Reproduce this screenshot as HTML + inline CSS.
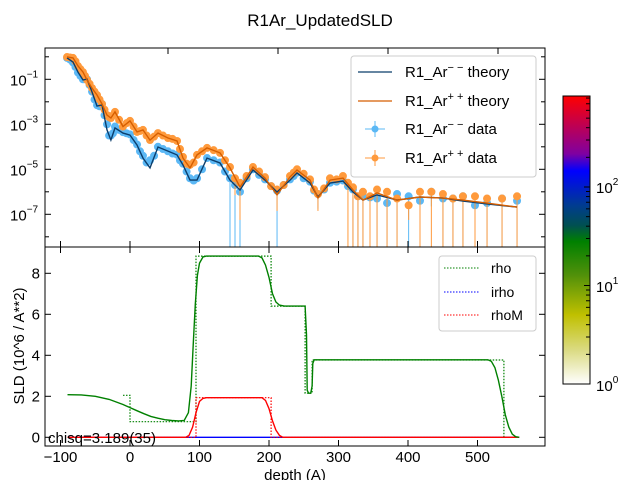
<!DOCTYPE html>
<html><head><meta charset="utf-8"><style>
body{margin:0;background:#fff;}
svg{display:block;font-family:"Liberation Sans",Arial,sans-serif;}
</style></head><body>
<svg id="chart" width="640" height="480" viewBox="0 0 640 480">
<defs>
<linearGradient id="cmap" x1="0" y1="0" x2="0" y2="1">
<stop offset="0" stop-color="#ff0000"/><stop offset="0.1" stop-color="#c00050"/><stop offset="0.2" stop-color="#8000a0"/><stop offset="0.26" stop-color="#0000ff"/><stop offset="0.38" stop-color="#003c90"/><stop offset="0.45" stop-color="#005050"/><stop offset="0.505" stop-color="#008000"/><stop offset="0.62" stop-color="#50900a"/><stop offset="0.76" stop-color="#c0c000"/><stop offset="0.88" stop-color="#dada80"/><stop offset="1" stop-color="#ffffff"/>
</linearGradient>
<clipPath id="clipTop"><rect x="45" y="48" width="500" height="199"/></clipPath>
<clipPath id="clipBot"><rect x="45" y="247" width="500" height="199"/></clipPath>
</defs>
<text x="320" y="26" font-size="17" text-anchor="middle">R1Ar_UpdatedSLD</text>
<g id="gtop" clip-path="url(#clipTop)"></g>
<g id="gbot" clip-path="url(#clipBot)"></g>
<g id="axes"></g>
<rect x="45" y="48" width="500" height="199" fill="none" stroke="#000" stroke-width="1"/>
<rect x="45" y="247" width="500" height="199" fill="none" stroke="#000" stroke-width="1"/>
<text x="48" y="443" font-size="15">chisq=3.189(35)</text>
<text x="295" y="480" font-size="15" text-anchor="middle">depth (A)</text>
<text transform="translate(24,346) rotate(-90)" font-size="15" text-anchor="middle">SLD (10^6 / A**2)</text>
<g>
<rect x="351" y="56" width="185" height="121" rx="3" fill="#fff" fill-opacity="0.85" stroke="#ccc"/>
<line x1="358" y1="72" x2="392" y2="72" stroke="#0b3d6b" stroke-width="1.3"/>
<text x="405" y="77" font-size="15">R1_Ar<tspan font-size="11" dy="-6">− −</tspan><tspan dy="6"> theory</tspan></text>
<line x1="358" y1="101" x2="392" y2="101" stroke="#d55e00" stroke-width="1.3"/>
<text x="405" y="106" font-size="15">R1_Ar<tspan font-size="11" dy="-6">+ +</tspan><tspan dy="6"> theory</tspan></text>
<line x1="375" y1="121" x2="375" y2="137" stroke="#5bb8f5"/><line x1="365" y1="129" x2="385" y2="129" stroke="#5bb8f5"/><circle cx="375" cy="129" r="3.5" fill="#5bb8f5"/>
<text x="405" y="134" font-size="15">R1_Ar<tspan font-size="11" dy="-6">− −</tspan><tspan dy="6"> data</tspan></text>
<line x1="375" y1="150" x2="375" y2="166" stroke="#ff9a3c"/><line x1="365" y1="158" x2="385" y2="158" stroke="#ff9a3c"/><circle cx="375" cy="158" r="3.5" fill="#ff9a3c"/>
<text x="405" y="163" font-size="15">R1_Ar<tspan font-size="11" dy="-6">+ +</tspan><tspan dy="6"> data</tspan></text>
</g>
<g>
<rect x="439" y="256" width="97" height="75" rx="3" fill="#fff" fill-opacity="0.85" stroke="#ccc"/>
<line x1="444" y1="268" x2="479" y2="268" stroke="#008000" stroke-dasharray="1.5,1.5"/><text x="491" y="273" font-size="14">rho</text>
<line x1="444" y1="292" x2="479" y2="292" stroke="#0000ff" stroke-dasharray="1.5,1.5"/><text x="491" y="297" font-size="14">irho</text>
<line x1="444" y1="315" x2="479" y2="315" stroke="#ff0000" stroke-dasharray="1.5,1.5"/><text x="491" y="320" font-size="14">rhoM</text>
</g>
<g>
<rect x="563" y="96" width="27" height="288" fill="url(#cmap)" stroke="#000"/>
<g id="cbticks"></g>
<text x="596" y="193" font-size="15">10<tspan font-size="10" dy="-8">2</tspan></text>
<text x="596" y="292" font-size="15">10<tspan font-size="10" dy="-8">1</tspan></text>
<text x="596" y="391" font-size="15">10<tspan font-size="10" dy="-8">0</tspan></text>
</g>
</svg>
<script>
const q = [0.0097,0.0123,0.0145,0.0167,0.0185,0.0207,0.0229,0.0251,0.0273,0.029,0.0308,0.0343,0.0374,0.0405,0.0431,0.0462,0.0497,0.0541,0.0581,0.0607,0.0638,0.0669,0.0713,0.077,0.0814,0.0858,0.0915,0.0968,0.1021,0.1078,0.1109,0.1166,0.1201,0.1254,0.1311,0.1355,0.1399,0.1461,0.1549,0.165,0.1751,0.1839,0.1945,0.2077];
const theoryPlus = [-0.01,-0.05,-0.41,-0.68,-1.03,-1.39,-1.70,-2.10,-2.59,-2.72,-2.45,-3.1,-2.85,-3.34,-3.25,-3.70,-3.39,-3.61,-3.74,-4.50,-4.94,-4.36,-4.05,-4.27,-4.94,-5.79,-4.90,-5.39,-6.14,-5.34,-5.03,-5.48,-6.28,-5.48,-5.39,-5.92,-6.37,-6.05,-6.37,-6.23,-6.28,-6.37,-6.50,-6.68];
const theoryMinus = [-0.05,-0.23,-0.68,-1.03,-0.99,-1.56,-2.19,-2.14,-3.25,-3.70,-3.16,-3.39,-3.48,-3.92,-4.50,-4.94,-4.01,-4.19,-4.36,-4.81,-5.48,-5.48,-4.50,-4.72,-5.48,-5.92,-5.03,-5.48,-6.01,-5.48,-5.16,-5.61,-6.23,-5.61,-5.52,-6.01,-6.37,-6.14,-6.37,-6.23,-6.28,-6.41,-6.54,-6.68];
const dataPlus = [-0.01,-0.05,-0.41,-0.68,-1.03,-1.39,-1.70,-2.10,-2.59,-2.72,-2.45,-3.1,-2.85,-3.34,-3.25,-3.70,-3.39,-3.61,-3.74,-4.45,-4.8,-4.36,-4.05,-4.27,-4.9,-5.6,-4.9,-5.35,-5.9,-5.3,-5.0,-5.45,-6.1,-5.4,-5.3,-5.8,-6.0,-5.9,-6.3,-6.0,-6.1,-6.2,-6.3,-6.2];
const dataMinus = [-0.05,-0.25,-0.7,-1.0,-1.0,-1.55,-2.15,-2.1,-3.0,-3.5,-3.1,-3.35,-3.45,-3.9,-4.4,-4.6,-4.0,-4.2,-4.35,-4.75,-5.4,-5.4,-4.5,-4.7,-5.4,-6.0,-5.0,-5.45,-5.95,-5.45,-5.15,-5.55,-6.1,-5.6,-5.5,-5.9,-6.2,-6.3,-6.1,-6.4,-6.3,-6.2,-6.5,-6.4];
const errPlus = [0,0,0,0,0,0,0,0,0,0,0,0,0,0,0,0,0,0,0,0,0,0,0,0,0,1.5,0,0,0.8,0,0,0,0.6,0,0,3,3,3,3,3,3,3,3,3];
const errMinus = [0,0,0,0,0,0,0,0,0,0,0,0,0,0,0,0,0,0,0,0,0,0,0,0,3,3,0,0,3,0,0,0,0.5,0,0,3,3,3,3,3,3,3,3,3];
const qMid = [0.011,0.0134,0.0156,0.0176,0.0196,0.0218,0.024,0.0262,0.0282,0.0299,0.0326,0.0359,0.039,0.0418,0.0447,0.048,0.0519,0.0561,0.0594,0.0623,0.0654,0.0691,0.0742,0.0792,0.0836,0.0887,0.0942,0.0995,0.105,0.1094,0.1138,0.1184,0.1228,0.1283,0.1333,0.1377,0.143,0.1505,0.16,0.17,0.1795,0.1892,0.2011];
const dataPlusMid = [-0.03,-0.2,-0.55,-0.85,-1.2,-1.55,-1.9,-2.35,-2.68,-2.6,-2.8,-2.95,-3.1,-3.3,-3.5,-3.55,-3.5,-3.65,-4.1,-4.75,-4.7,-4.2,-4.15,-4.6,-5.4,-5.3,-5.1,-5.75,-5.7,-5.15,-5.2,-5.9,-5.85,-5.45,-5.6,-6.2,-6.2,-6.0,-6.6,-6.0,-6.3,-6.2,-6.3];
const dataMinusMid = [-0.12,-0.45,-0.85,-1.0,-1.25,-1.9,-2.2,-2.6,-3.5,-3.4,-3.25,-3.4,-3.7,-4.2,-4.7,-4.4,-4.1,-4.3,-4.6,-5.1,-5.5,-5.0,-4.6,-5.1,-5.7,-5.4,-5.25,-5.75,-5.7,-5.3,-5.4,-5.95,-5.9,-5.55,-5.75,-6.2,-6.25,-6.5,-6.2,-6.0,-6.3,-6.6,-6.3];
const errPlusMid = [0,0,0,0,0,0,0,0,0,0,0,0,0,0,0,0,0,0,0,0,0,0,0,0,0.6,0,0,0,0,0,0,0,0,0,3,3,3,3,0.5,3,3,3,3];
const errMinusMid = [0,0,0,0,0,0,0,0,0,0,0,0,0,0,0,0,0,0,0,0,0,0,0,0,3,0,0,0,0,0,0,0,0,0,0,3,0.6,3,3,0.5,3,0.6,3];
const rhoDepth = [-90,-70,-50,-30,-10,0,10,20,30,40,50,60,70,78,84,88,91,94,97,100,105,110,185,190,195,200,205,210,215,222,252,254,255,257,260,262,263,265,515,520,525,530,535,540,545,550,555,560];
const rhoValues = [2.08,2.07,2.0,1.85,1.6,1.45,1.3,1.15,1.02,0.93,0.86,0.82,0.80,0.82,1.2,2.5,4.5,6.5,7.9,8.5,8.8,8.84,8.84,8.75,8.4,7.8,7.0,6.6,6.45,6.4,6.4,5.0,2.3,2.15,2.15,2.5,3.6,3.78,3.78,3.7,3.4,2.8,2.0,1.1,0.5,0.15,0.03,0];
const rhoMDepth = [-90,80,85,90,95,100,105,110,190,195,200,205,210,215,220,560];
const rhoMValues = [0,0,0.1,0.5,1.2,1.75,1.9,1.93,1.93,1.8,1.4,0.8,0.35,0.1,0,0];
const stepDepth = [-10,0,0,95,95,203,203,252,252,262,262,538,538,560];
const stepRho = [2.05,2.05,0.76,0.76,8.84,8.84,6.4,6.4,2.15,2.15,3.77,3.77,0,0];
const stepMDepth = [-90,95,95,203,203,560];
const stepMValues = [0,0,1.93,1.93,0,0];
const depthTicks = [-100,0,100,200,300,400,500];
const sldTicks = [0,2,4,6,8];
const logTicks = [-1,-3,-5,-7];

const NS='http://www.w3.org/2000/svg';
const xq = v => 45 + v*2272.7;
const yr = v => 79.3 - (v+1)*22.5;
const xd = v => 130 + v*0.695;
const ys = v => 437.3 - v*20.5;
function mk(parent, tag, attrs){const e=document.createElementNS(NS,tag);for(const k in attrs)e.setAttribute(k,attrs[k]);parent.appendChild(e);return e;}
const gTop=document.getElementById('gtop'), gBot=document.getElementById('gbot'), ax=document.getElementById('axes');

function poly(parent, xs, ys_, fx, fy, stroke, dash, name){
  const p = xs.map((v,i)=>fx(v).toFixed(1)+','+fy(ys_[i]).toFixed(1)).join(' ');
  const e = mk(parent,'polyline',{points:p,fill:'none',stroke:stroke,'stroke-width':dash?1.2:1.4});
  if(dash) e.setAttribute('stroke-dasharray','1.5,1.5');
  
  
}
function dataSeries(qs, vals, errs, color, name){
  const g = mk(gTop,'g',{});
  
  
  qs.forEach((qq,i)=>{
    const x=xq(qq), y=yr(vals[i]);
    mk(g,'line',{x1:x,y1:yr(vals[i]+0.15),x2:x,y2:yr(vals[i]-0.15-errs[i]),stroke:color,'stroke-width':1});
    const c = mk(g,'circle',{cx:x,cy:y,r:4,fill:color});
    
    
  });
}
dataSeries(q, dataMinus, errMinus, '#5bb8f5', 'minus-data');
dataSeries(qMid, dataMinusMid, errMinusMid, '#5bb8f5', 'minus-data');
dataSeries(q, dataPlus, errPlus, '#ff9a3c', 'plus-data');
dataSeries(qMid, dataPlusMid, errPlusMid, '#ff9a3c', 'plus-data');
poly(gTop, q, theoryMinus, xq, yr, '#0b3d6b', false, 'minus-theory-line');
poly(gTop, q, theoryPlus, xq, yr, '#d55e00', false, 'plus-theory-line');

poly(gBot, [-90,560], [0,0], xd, ys, '#0000ff', false, 'irho-line');
poly(gBot, stepDepth, stepRho, xd, ys, '#008000', true, 'rho-step-line');
poly(gBot, stepMDepth, stepMValues, xd, ys, '#ff0000', true, 'rhoM-step-line');
poly(gBot, rhoMDepth, rhoMValues, xd, ys, '#ff0000', false, 'rhoM-line');
poly(gBot, rhoDepth, rhoValues, xd, ys, '#008000', false, 'rho-line');

function tick(x1,y1,x2,y2){mk(ax,'line',{x1,y1,x2,y2,stroke:'#000','stroke-width':1});}
depthTicks.forEach(d=>{
  const x=xd(d);
  tick(x,446,x,440); tick(x,247,x,253); tick(x,247,x,241);
  const t=mk(ax,'text',{x:x,y:462,'font-size':15,'text-anchor':'middle'});
  t.textContent = d<0 ? '−'+(-d) : String(d);
  
  
});
[168,278,388,498].forEach(x=>{tick(x,48,x,54);});
sldTicks.forEach(v=>{
  const y=ys(v);
  tick(45,y,51,y); tick(545,y,539,y);
  const t=mk(ax,'text',{x:40,y:y+5,'font-size':15,'text-anchor':'end'});
  t.textContent=String(v);
  
  
});
logTicks.forEach(v=>{
  const y=yr(v);
  tick(45,y,51,y); tick(545,y,539,y);
  const t=mk(ax,'text',{x:10,y:y+6,'font-size':15});
  t.textContent='10';
  const s=mk(t,'tspan',{'font-size':10,dy:-8});
  s.textContent='−'+(-v);
  
  
});
[0,-2,-4,-6,-8].forEach(v=>{const y=yr(v); tick(45,y,49,y); tick(545,y,541,y);});
const cb=document.getElementById('cbticks');
for(let d=0; d<3; d++){
  for(let m=2;m<=9;m++){
    const y=384-98.5*(d+Math.log10(m));
    if(y<97) continue;
    mk(cb,'line',{x1:590,y1:y,x2:586,y2:y,stroke:'#000'});
  }
  const y=384-98.5*d; mk(cb,'line',{x1:590,y1:y,x2:584,y2:y,stroke:'#000'});
}
</script>
</body></html>
